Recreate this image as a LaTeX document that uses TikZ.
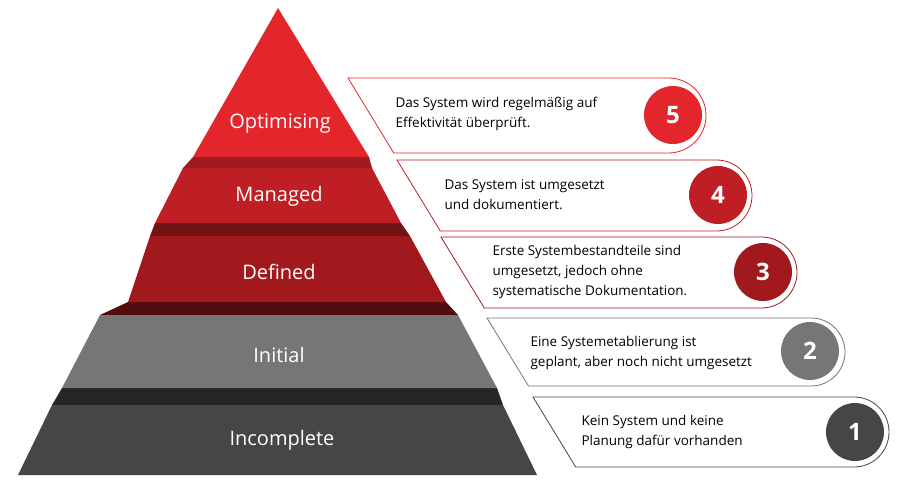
\documentclass[tikz,border=0pt]{standalone}
\usepackage{fontspec}
\setmainfont{Open Sans}
\usepackage{tikz}
\definecolor{lvlfive}{HTML}{E3262B}
\definecolor{lvlfour}{HTML}{BF1F24}
\definecolor{lvlthree}{HTML}{A1191C}
\definecolor{lvltwo}{HTML}{767676}
\definecolor{lvlone}{HTML}{464646}
\tikzset{
  layer/.style={font=\fontsize{20}{24}\selectfont,text=white},
  note/.style={font=\fontsize{13.5}{20}\selectfont,align=left,anchor=west},
  num/.style={circle,minimum size=58pt,inner sep=0pt,text=white,
    font=\fontsize{24}{24}\selectfont\bfseries}
}
% callout: top y, height, top-left x, right end x, colour
\newcommand{\callout}[5]{%
  \draw[#5,line width=0.8pt,fill=white] (#3,#1) -- ({#4-#2/2},#1)
    arc[start angle=-90,end angle=90,radius=#2/2]
    -- ({#3+0.61*#2},{#1+#2}) -- cycle;}
\begin{document}
\begin{tikzpicture}[x=1pt,y=-1pt]
          \useasboundingbox (0,0) rectangle (900,482);
          % shadows
          \fill[lvlfive!70!black] (193,157) -- (369,157) -- (372,168) -- (183,168) -- cycle;
          \fill[lvlfour!60!black] (155,223) -- (401,223) -- (410,236) -- (150,236) -- cycle;
          \fill[lvlthree!50!black] (128,302) -- (446,302) -- (458,315) -- (100,315) -- cycle;
          \fill[black!85] (62,388) -- (497,388) -- (503,405) -- (52,405) -- cycle;
          % layers
          \fill[lvlfive] (278,8) -- (369,157) -- (193,157) -- cycle;
          \fill[lvlfour] (183,168) -- (372,168) -- (401,223) -- (155,223) -- cycle;
          \fill[lvlthree] (150,236) -- (410,236) -- (446,302) -- (128,302) -- cycle;
          \fill[lvltwo] (100,315) -- (458,315) -- (497,388) -- (62,388) -- cycle;
          \fill[lvlone] (52,405) -- (503,405) -- (537,475) -- (18,475) -- cycle;
          \node[layer] (optimising) at (280,124) {Optimising};
          \node[layer] (managed) at (279,196) {Managed};
          \node[layer] (defined) at (279,272) {Defined};
          \node[layer] (initial) at (279,355) {Initial};
          \node[layer] (incomplete) at (282,440) {Incomplete};
          % callouts
          \callout{78}{75}{348}{706}{lvlfive}
          \callout{160}{71}{397}{752}{lvlfour}
          \callout{237}{71}{441}{797}{lvlthree}
          \callout{318}{68}{487}{845}{lvltwo}
          \callout{397}{70}{533}{889}{lvlone}
          \node[num,fill=lvlfive] (five) at (673,115) {5};
          \node[num,fill=lvlfour] (four) at (718,195) {4};
          \node[num,fill=lvlthree] (three) at (763,272) {3};
          \node[num,fill=lvltwo] (two) at (810,351) {2};
          \node[num,fill=lvlone] (one) at (855,432) {1};
          \node[note] (notefive) at (392,114) {Das System wird regelmäßig auf\\Effektivität überprüft.};
          \node[note] (notefour) at (441,195) {Das System ist umgesetzt\\und dokumentiert.};
          \node[note] (notethree) at (489,272) {Erste Systembestandteile sind\\umgesetzt, jedoch ohne\\systematische Dokumentation.};
          \node[note] (notetwo) at (527,353) {Eine Systemetablierung ist\\geplant, aber noch nicht umgesetzt};
          \node[note] (noteone) at (578,432) {Kein System und keine\\Planung dafür vorhanden};
        \end{tikzpicture}
\end{document}
